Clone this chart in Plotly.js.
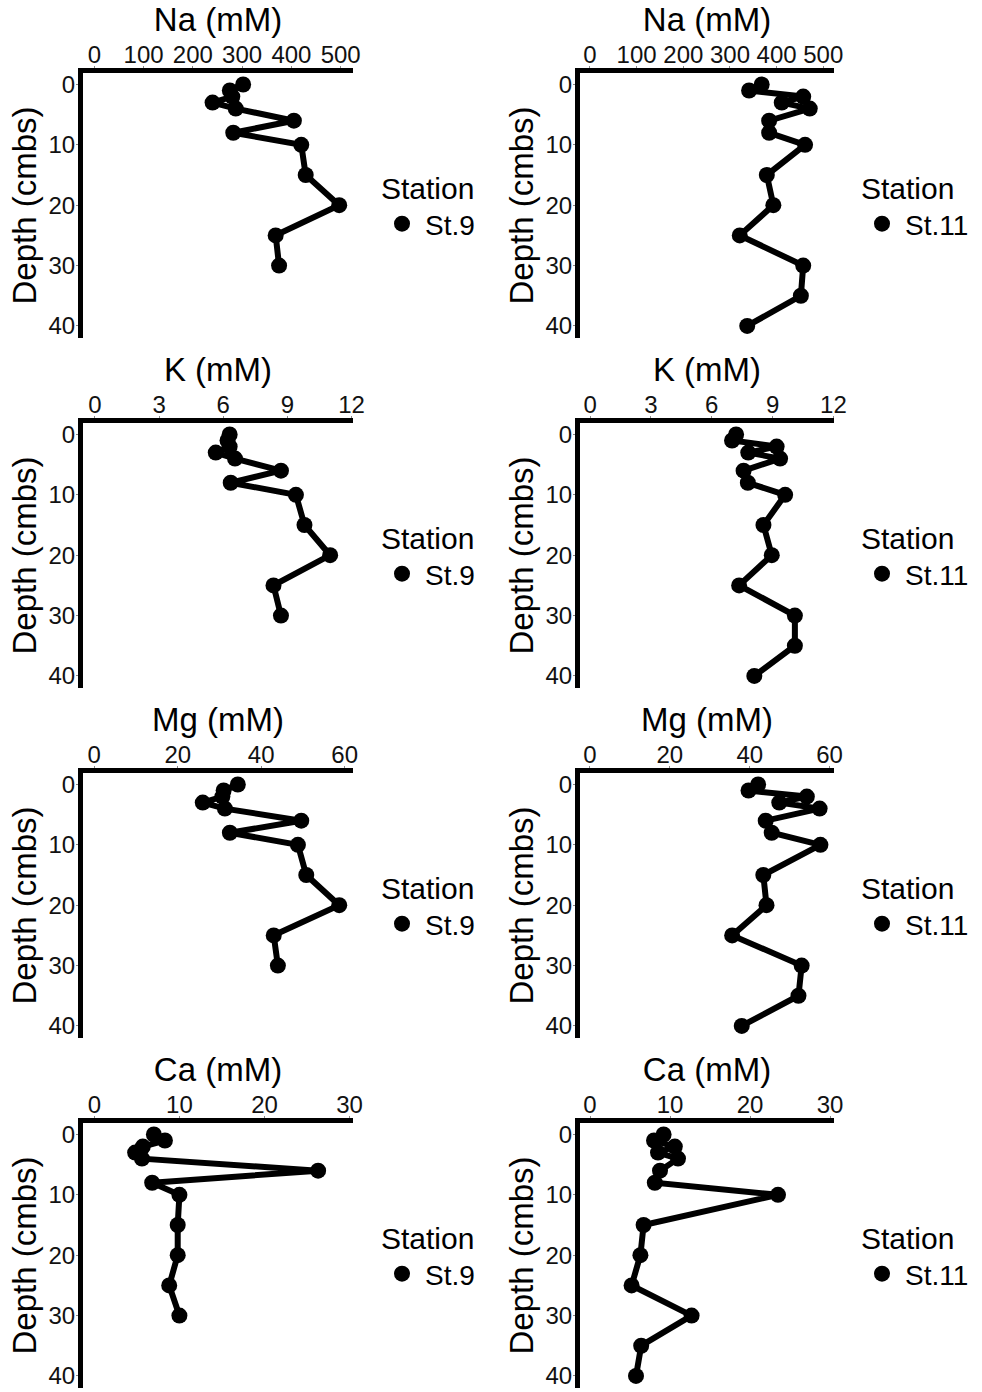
<!DOCTYPE html>
<html>
<head>
<meta charset="utf-8">
<script src="https://cdn.plot.ly/plotly-3.0.1.min.js"></script>
<style>html,body{margin:0;padding:0;background:#fff;}#chart{width:982px;height:1392px;}</style>
</head>
<body>
<div id="chart"></div>
<script>
// ---- data ----
const depth9  = [0, 1, 2, 3, 4, 6, 8, 10, 15, 20, 25, 30];
const depth11 = [0, 1, 2, 3, 4, 6, 8, 10, 15, 20, 25, 30, 35, 40];

const na9  = [302, 275, 280, 240, 287, 405, 282, 420, 429, 497, 368, 375];
const na11 = [368, 341, 457, 411, 471, 384, 384, 461, 379, 393, 321, 457, 452, 337];
const k9   = [6.3, 6.2, 6.3, 5.65, 6.55, 8.7, 6.35, 9.4, 9.8, 11.0, 8.35, 8.7];
const k11  = [7.2, 7.0, 9.2, 7.8, 9.37, 7.57, 7.78, 9.62, 8.55, 8.96, 7.35, 10.1, 10.1, 8.1];
const mg9  = [34.4, 31.0, 30.7, 26.0, 31.3, 49.6, 32.5, 48.8, 50.8, 58.7, 43.0, 44.0];
const mg11 = [42.1, 39.7, 54.3, 47.4, 57.5, 44.0, 45.5, 57.7, 43.4, 44.2, 35.6, 53.0, 52.2, 38.0];
const ca9  = [7.0, 8.3, 5.7, 4.8, 5.6, 26.3, 6.8, 10.0, 9.8, 9.8, 8.8, 10.0];
const ca11 = [9.2, 8.0, 10.6, 8.5, 11.0, 8.75, 8.1, 23.5, 6.7, 6.3, 5.2, 12.7, 6.4, 5.75];

const elementTitles = ["Na (mM)", "K (mM)", "Mg (mM)", "Ca (mM)"];
const elementTicks = [[0,100,200,300,400,500],[0,3,6,9,12],[0,20,40,60],[0,10,20,30]];
const stationNames = ["St.9", "St.11"];
const depthTicks = [0, 10, 20, 30, 40];
const yAxisTitle = "Depth (cmbs)";
const legendTitle = "Station";

// ---- layout helpers ----
const W = 982, H = 1392;
const FONT = 'Arial, "Liberation Sans", sans-serif';
const series = [
  [na9, na11], [k9, k11], [mg9, mg11], [ca9, ca11]
];
const depths = [depth9, depth11];
const xRanges = [
  [[-23, 525], [-21.4, 523]],
  [[-0.56, 12.07], [-0.5, 12.03]],
  [[-2.7, 62], [-2.5, 61.1]],
  [[-1.33, 30.4], [-1.25, 30.5]]
];
const colPx = [[83, 353], [580, 834]];
const rowTop = [73, 423, 773, 1123];
const panelH = 265;
const legendX = [379, 859];
const legendTop = [160, 510, 860, 1210];

const traces = [];
const layout = {
  width: W, height: H,
  margin: {l: 0, r: 0, t: 0, b: 0},
  paper_bgcolor: '#ffffff', plot_bgcolor: '#ffffff',
  font: {family: FONT, color: '#000'},
  showlegend: true
};

let idx = 0;
for (let r = 0; r < 4; r++) {
  for (let c = 0; c < 2; c++) {
    idx++;
    const ax = idx === 1 ? '' : String(idx);
    const xs = 'x' + ax, ys = 'y' + ax;
    const legName = idx === 1 ? 'legend' : 'legend' + idx;
    const xv = series[r][c], yv = depths[c];
    traces.push({
      x: xv, y: yv, xaxis: xs, yaxis: ys, type: 'scatter', mode: 'lines',
      line: {color: '#000', width: 6}, showlegend: false, hoverinfo: 'skip'
    });
    traces.push({
      x: xv, y: yv, xaxis: xs, yaxis: ys, type: 'scatter', mode: 'markers',
      marker: {color: '#000', size: 16}, name: stationNames[c],
      legend: legName, showlegend: true
    });
    layout['xaxis' + ax] = {
      domain: [colPx[c][0] / W, colPx[c][1] / W],
      anchor: ys, side: 'top',
      range: xRanges[r][c], tickvals: elementTicks[r],
      showgrid: false, zeroline: false,
      showline: true, linecolor: '#000', linewidth: 5,
      ticks: 'outside', ticklen: 2, tickwidth: 1, tickcolor: '#888',
      ticklabelstandoff: -7,
      tickfont: {size: 24, color: '#111', family: FONT},
      title: {text: elementTitles[r], font: {size: 33, color: '#000', family: FONT}, standoff: 1},
      fixedrange: true
    };
    layout['yaxis' + ax] = {
      domain: [1 - (rowTop[r] + panelH) / H, 1 - rowTop[r] / H],
      anchor: xs,
      range: [42, -1.9], tickvals: depthTicks,
      showgrid: false, zeroline: false,
      showline: true, linecolor: '#000', linewidth: 5,
      ticks: 'outside', ticklen: 2, tickwidth: 1, tickcolor: '#888',
      ticklabelstandoff: -4,
      tickfont: {size: 24, color: '#111', family: FONT},
      title: {text: yAxisTitle, font: {size: 33, color: '#000', family: FONT}, standoff: 3},
      fixedrange: true
    };
    layout[legName] = {
      x: legendX[c] / W, y: 1 - legendTop[r] / H,
      xanchor: 'left', yanchor: 'top',
      bgcolor: 'rgba(0,0,0,0)', borderwidth: 0,
      title: {text: legendTitle, font: {size: 30, color: '#000', family: FONT}},
      font: {size: 28, color: '#000', family: FONT},
      itemsizing: 'trace', itemwidth: 36
    };
  }
}

Plotly.newPlot('chart', traces, layout, {staticPlot: true, displayModeBar: false});
</script>
</body>
</html>
